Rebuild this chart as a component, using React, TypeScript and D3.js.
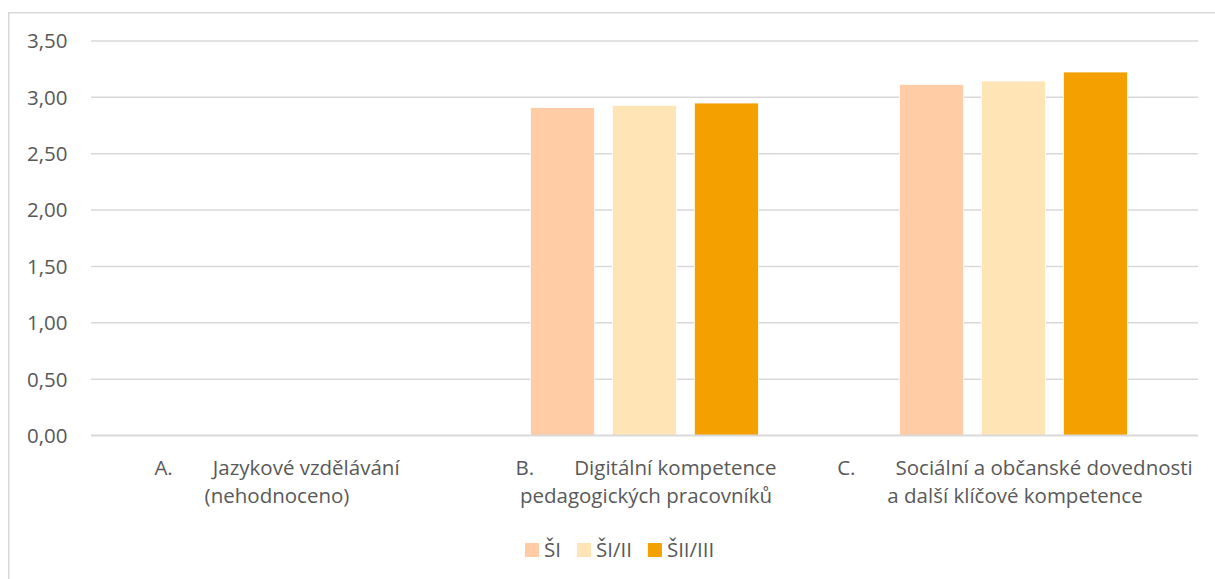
import React, { useEffect, useRef } from "react";
import * as d3 from "d3";

const categoryPrefixes = ["A.", "B.", "C."];
const categoryLine1 = ["Jazykové vzdělávání", "Digitální kompetence", "Sociální a občanské dovednosti"];
const categoryLine2 = ["(nehodnoceno)", "pedagogických pracovníků", "a další klíčové kompetence"];
const seriesNames = ["ŠI", "ŠI/II", "ŠII/III"];
const seriesColors = ["#FFCCA6", "#FFE4B6", "#F4A000"];
const valuesSI: (number | null)[] = [null, 2.91, 3.115];
const valuesSIII: (number | null)[] = [null, 2.93, 3.145];
const valuesSIIIII: (number | null)[] = [null, 2.95, 3.225];
const yTicks = [0, 0.5, 1, 1.5, 2, 2.5, 3, 3.5];

const W = 1215;
const H = 579;
const FONT = "'Open Sans', sans-serif";
const FS = 20.5;
const TXT = "#595959";

export default function App() {
  const ref = useRef<SVGSVGElement | null>(null);

  useEffect(() => {
    const svg = d3.select(ref.current);
    svg.selectAll("*").remove();

    const left = 91, right = 1198, top = 41, bottom = 435.5;
    const series = [valuesSI, valuesSIII, valuesSIIIII];

    // frame
    svg.append("rect")
      .attr("x", 8.75).attr("y", 12.75)
      .attr("width", 1400).attr("height", 800)
      .attr("fill", "white").attr("stroke", "#d9d9d9").attr("stroke-width", 1.5);

    const x0 = d3.scaleBand<number>().domain(d3.range(categoryPrefixes.length)).range([left, right]).padding(0);
    const groupPad = 70.5;
    const x1 = d3.scaleBand<number>().domain(d3.range(seriesNames.length))
      .range([groupPad, x0.bandwidth() - groupPad]).paddingInner(0.217).paddingOuter(0);
    const y = d3.scaleLinear().domain([0, 3.5]).range([bottom, top]);

    const fmt = d3.formatLocale({ decimal: ",", thousands: " ", grouping: [3], currency: ["", ""] }).format(".2f");

    // gridlines
    svg.append("g").selectAll("line").data(yTicks.filter((t) => t > 0)).join("line")
      .attr("x1", left).attr("x2", right)
      .attr("y1", (d) => y(d)).attr("y2", (d) => y(d))
      .attr("stroke", "#d9d9d9").attr("stroke-width", 1.5);

    // tick labels
    svg.append("g").selectAll("text").data(yTicks).join("text")
      .attr("x", 67.5).attr("y", (d) => y(d))
      .attr("dy", "0.36em")
      .attr("text-anchor", "end")
      .attr("font-family", FONT).attr("font-size", FS).attr("fill", TXT)
      .text((d) => fmt(d));

    // bars
    series.forEach((vals, si) => {
      svg.append("g").selectAll("rect")
        .data(vals.map((v, ci) => ({ v, ci })).filter((d) => d.v != null))
        .join("rect")
        .attr("x", (d) => (x0(d.ci) as number) + (x1(si) as number))
        .attr("width", x1.bandwidth())
        .attr("y", (d) => y(d.v as number))
        .attr("height", (d) => y(0) - y(d.v as number))
        .attr("fill", seriesColors[si])
        .attr("stroke", "white").attr("stroke-width", 0.8);
    });

    // baseline
    svg.append("line")
      .attr("x1", left).attr("x2", right)
      .attr("y1", y(0)).attr("y2", y(0))
      .attr("stroke", "#d9d9d9").attr("stroke-width", 2);

    // category labels
    const gapPrefix = 40;
    categoryPrefixes.forEach((p, i) => {
      const cx = (x0(i) as number) + x0.bandwidth() / 2 + 1.5;
      const g = svg.append("g");
      const t1 = g.append("text").attr("y", 475)
        .attr("font-family", FONT).attr("font-size", FS).attr("fill", TXT).text(p);
      const t2 = g.append("text").attr("y", 475)
        .attr("font-family", FONT).attr("font-size", FS).attr("fill", TXT).text(categoryLine1[i]);
      const w1 = (t1.node() as SVGTextElement).getComputedTextLength();
      const w2 = (t2.node() as SVGTextElement).getComputedTextLength();
      const total = w1 + gapPrefix + w2;
      t1.attr("x", cx - total / 2);
      t2.attr("x", cx - total / 2 + w1 + gapPrefix);
      g.append("text").attr("x", cx).attr("y", 503)
        .attr("text-anchor", "middle")
        .attr("font-family", FONT).attr("font-size", FS).attr("fill", TXT).text(categoryLine2[i]);
    });

    // legend
    let lx = 525;
    const legend = svg.append("g");
    seriesNames.forEach((name, i) => {
      legend.append("rect").attr("x", lx).attr("y", 543).attr("width", 14).attr("height", 14)
        .attr("fill", seriesColors[i]);
      const t = legend.append("text").attr("x", lx + 19).attr("y", 550).attr("dy", "0.36em")
        .attr("font-family", FONT).attr("font-size", FS).attr("fill", TXT).text(name);
      const w = (t.node() as SVGTextElement).getComputedTextLength();
      lx = lx + 19 + w + 16;
    });
  }, []);

  return (
    <svg ref={ref} width={W} height={H}
      style={{ position: "absolute", left: 0, top: 0, background: "white", overflow: "hidden" }} />
  );
}
